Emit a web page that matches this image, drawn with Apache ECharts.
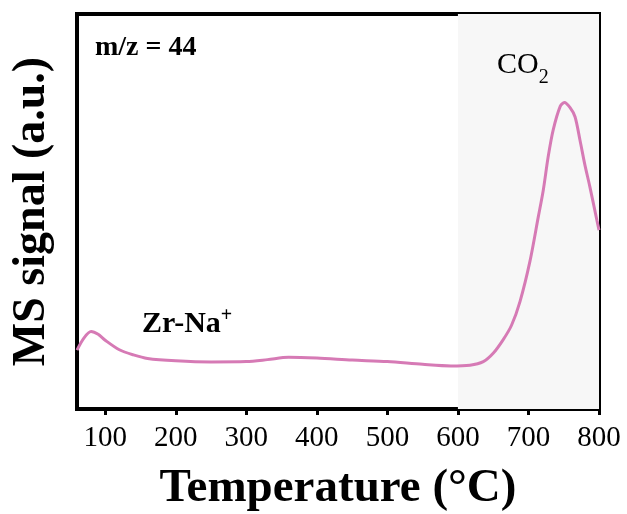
<!DOCTYPE html>
<html>
<head>
<meta charset="utf-8">
<script src="https://cdn.jsdelivr.net/npm/echarts@6/dist/echarts.min.js"></script>
<style>
  html, body { margin: 0; padding: 0; background: #fff; }
  #chart { width: 627px; height: 514px; }
</style>
</head>
<body>
<div id="chart"></div>
<script>
// Temperature programme (°C) and the m/z = 44 MS signal (arbitrary units)
const temperature = [60, 70, 80, 90, 100, 120, 140, 160, 200, 250, 300, 330, 360, 400, 450, 500, 550, 590, 617, 636, 650, 664, 676, 688, 702, 714, 721, 728, 735, 745, 751, 759, 766, 773, 780, 787, 797, 800];
const signal      = [14.9, 18.0, 19.6, 18.9, 17.4, 15.0, 13.7, 12.8, 12.2, 11.9, 12.0, 12.5, 13.1, 12.9, 12.4, 12.0, 11.3, 10.9, 11.1, 12.0, 14.1, 17.5, 21.2, 27.2, 37.3, 48.7, 55.4, 63.9, 70.6, 76.6, 77.6, 76.3, 74.0, 68.1, 61.8, 56.3, 47.8, 45.3];

// Tick labels on the temperature axis
const tickLabels = [100, 200, 300, 400, 500, 600, 700, 800];

// Shaded CO2 desorption window
const co2Window = [600, 800];

const serif = '"Liberation Serif", "Times New Roman", serif';

const chart = echarts.init(document.getElementById('chart'), null, { renderer: 'canvas' });

chart.setOption({
  animation: false,
  backgroundColor: '#ffffff',
  grid: {
    left: 77, right: 28, top: 14, bottom: 105,
    show: true, borderWidth: 4, borderColor: '#000', backgroundColor: 'transparent',
    containLabel: false,
    outerBoundsMode: 'none'
  },
  xAxis: {
    type: 'value',
    min: 60, max: 800,
    name: 'Temperature (°C)',
    nameLocation: 'middle',
    nameGap: 56,
    nameTextStyle: { fontFamily: serif, fontWeight: 'bold', fontSize: 47, color: '#000' },
    axisLine: { show: true, lineStyle: { color: '#000', width: 4 } },
    axisTick: { show: true, length: 6, inside: false, lineStyle: { color: '#000', width: 3 }, customValues: tickLabels },
    axisLabel: { fontFamily: serif, fontSize: 29, color: '#000', margin: 15, hideOverlap: false, customValues: tickLabels },
    splitLine: { show: false }
  },
  yAxis: {
    type: 'value',
    min: 0, max: 100,
    name: 'MS signal (a.u.)',
    nameLocation: 'middle',
    nameRotate: 90,
    nameGap: 22,
    nameTextStyle: { fontFamily: serif, fontWeight: 'bold', fontSize: 46, color: '#000' },
    axisLine: { show: true, lineStyle: { color: '#000', width: 4 } },
    axisTick: { show: false },
    axisLabel: { show: false },
    splitLine: { show: false }
  },
  series: [{
    type: 'line',
    data: temperature.map((t, i) => [t, signal[i]]),
    smooth: 0.3,
    showSymbol: false,
    lineStyle: { color: '#d67ab5', width: 3 },
    z: 3,
    markArea: {
      silent: true,
      itemStyle: { color: '#f7f7f7' },
      data: [[{ xAxis: co2Window[0], yAxis: 0 }, { xAxis: co2Window[1], yAxis: 100 }]]
    }
  }],
  graphic: [
    {
      type: 'text', left: 95, top: 34, z: 10,
      style: { text: 'm/z = 44', font: 'bold 28px ' + serif, fill: '#000' }
    },
    {
      type: 'text', left: 497, top: 50, z: 10,
      style: {
        text: '{m|CO}{s|2}',
        rich: {
          m: { font: '30px ' + serif, fill: '#000', verticalAlign: 'top' },
          s: { font: '20px ' + serif, fill: '#000', padding: [18, 0, 0, 0] }
        }
      }
    },
    {
      type: 'text', left: 142, top: 306, z: 10,
      style: {
        text: '{m|Zr-Na}{s|+}',
        rich: {
          m: { font: 'bold 30px ' + serif, fill: '#000' },
          s: { font: 'bold 20px ' + serif, fill: '#000', padding: [0, 0, 16, 0] }
        }
      }
    }
  ]
});
</script>
</body>
</html>
